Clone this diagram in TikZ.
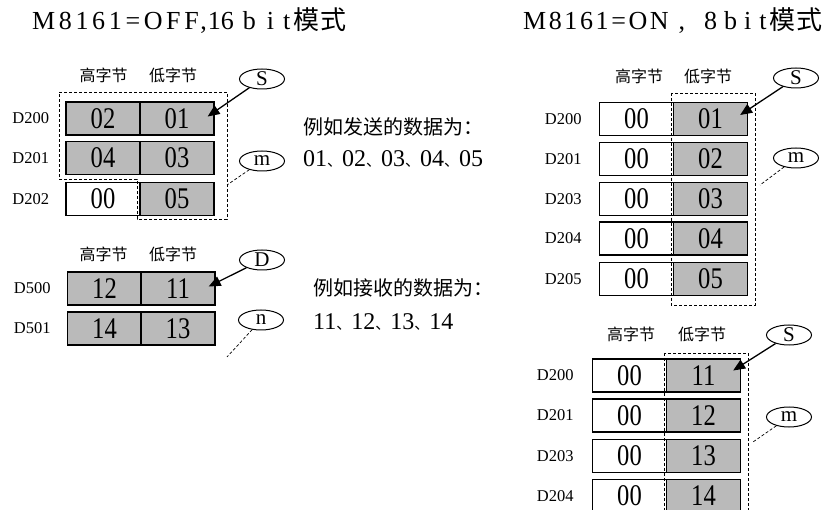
\documentclass[tikz,border=0pt]{standalone}
\usepackage{fontspec}
\setmainfont{Liberation Serif}
\newfontfamily\cjk{Noto Sans CJK SC}
\newfontfamily\cellfont[FakeStretch=0.82]{Liberation Serif}
\newfontfamily\spacedA[LetterSpace=14]{Liberation Serif}
\newfontfamily\spacedB[LetterSpace=10]{Liberation Serif}
\newcommand{\dun}{\makebox[15pt][l]{\cjk\fontsize{15}{15}\selectfont 、}}
\usetikzlibrary{positioning,shapes.geometric,arrows.meta}
\begin{document}
\begin{tikzpicture}[x=1pt,y=-1pt,
  cellg/.style={draw,line width=1.3pt,fill=black!27,minimum width=74pt,minimum height=33pt,inner sep=0pt,font=\cellfont\fontsize{30}{30}\selectfont},
  cellw/.style={cellg,fill=white},
  reglab/.style={inner sep=0pt,font=\fontsize{16.5}{16.5}\selectfont},
  colhead/.style={inner sep=0pt,font=\cjk\fontsize{16}{16}\selectfont},
  opnd/.style={draw,ellipse,line width=1pt,minimum width=45pt,minimum height=20pt,inner sep=0pt,font=\fontsize{21}{21}\selectfont},
  ptr/.style={line width=1.3pt,-{Triangle[length=12pt,width=10pt]}},
  selbox/.style={line width=0.7pt,dash pattern=on 3pt off 2pt},
  note/.style={anchor=base west,inner sep=0pt,font=\fontsize{24}{24}\selectfont},
  heading/.style={anchor=base west,inner sep=0pt,font=\fontsize{26}{26}\selectfont}]
\clip (0,0) rectangle (827,510);
% titles
\node[heading] (tl) at (32,30) {{\spacedA M8161=OFF,}\hspace{1pt}16\hspace{9pt}b\hspace{11pt}i\hspace{9pt}t{\cjk\hspace{3pt}模\hspace{1pt}式}};
\node[heading] (tr) at (523,30) {{\spacedB M8161=ON}\hspace{10pt},\hspace{19pt}8\hspace{7pt}b\hspace{7pt}i\hspace{8pt}t{\cjk\hspace{3pt}模\hspace{1pt}式}};

% 16 bit, send
\node[colhead] (ha) at (103.5,75.5) {高字节};
\node[colhead] (la) at (173,75.5) {低字节};
\node[cellg] (a1h) at (103,118.5) {02};
\node[cellg] (a1l) at (177,118.5) {01};
\node[cellg] (a2h) at (103,158) {04};
\node[cellg] (a2l) at (177,158) {03};
\node[cellw] (a3h) at (103,199) {00};
\node[cellg] (a3l) at (177,199) {05};
\node[reglab,left=16pt of a1h] (a1d) {D200};
\node[reglab,left=16pt of a2h] (a2d) {D201};
\node[reglab,left=16pt of a3h] (a3d) {D202};
\draw[selbox] (59,92) -- (227,92) -- (227,219) -- (137,219) -- (137,179) -- (59,179) -- cycle;
\node[opnd] (sa) at (262,79) {S};
\node[opnd] (ma) at (262,161) {m};
\coordinate (mae) at (227,185);
\draw[ptr] (sa) -- ([shift={(-7,-2)}]a1l.east);
\draw[selbox] (ma) -- (mae);
\node[note,font=\cjk\fontsize{20}{20}\selectfont] (txa) at (303,135) {例如发送的数据为：};
\node[note] (nua) at (303,167) {01\dun 02\dun 03\dun 04\dun 05};

% 16 bit, receive
\node[colhead] (hb) at (103.5,254.5) {高字节};
\node[colhead] (lb) at (173,254.5) {低字节};
\node[cellg] (b1h) at (104.5,288.5) {12};
\node[cellg] (b1l) at (178,288.5) {11};
\node[cellg] (b2h) at (104.5,328.5) {14};
\node[cellg] (b2l) at (178,328.5) {13};
\node[reglab,left=16pt of b1h] (b1d) {D500};
\node[reglab,left=16pt of b2h] (b2d) {D501};
\node[opnd] (db) at (262,260) {D};
\node[opnd] (nb) at (261,320) {n};
\coordinate (nbe) at (227,357);
\draw[ptr] (db) -- ([shift={(-7,-2)}]b1l.east);
\draw[selbox] (nb) -- (nbe);
\node[note,font=\cjk\fontsize{20}{20}\selectfont] (txb) at (313,296) {例如接收的数据为：};
\node[note] (nub) at (313,330) {11\dun 12\dun 13\dun 14};

% 8 bit, send
\node[colhead] (hc) at (639,76.5) {高字节};
\node[colhead] (lc) at (708,76.5) {低字节};
\node[cellw] (c1h) at (636.5,119) {00};
\node[cellg] (c1l) at (710.5,119) {01};
\node[cellw] (c2h) at (636.5,159) {00};
\node[cellg] (c2l) at (710.5,159) {02};
\node[cellw] (c3h) at (636.5,199) {00};
\node[cellg] (c3l) at (710.5,199) {03};
\node[cellw] (c4h) at (636.5,238.5) {00};
\node[cellg] (c4l) at (710.5,238.5) {04};
\node[cellw] (c5h) at (636.5,279) {00};
\node[cellg] (c5l) at (710.5,279) {05};
\node[reglab,left=17pt of c1h] (c1d) {D200};
\node[reglab,left=17pt of c2h] (c2d) {D201};
\node[reglab,left=17pt of c3h] (c3d) {D203};
\node[reglab,left=17pt of c4h] (c4d) {D204};
\node[reglab,left=17pt of c5h] (c5d) {D205};
\draw[selbox] (671,93) rectangle (755,305);
\node[opnd] (sc) at (796,78) {S};
\node[opnd] (mc) at (796,158) {m};
\coordinate (mce) at (760,185);
\draw[ptr] (sc) -- ([shift={(-8,-4)}]c1l.east);
\draw[selbox] (mc) -- (mce);

% 8 bit, receive
\node[colhead] (hd) at (631,334.5) {高字节};
\node[colhead] (ld) at (702,334.5) {低字节};
\node[cellw] (d1h) at (629.5,375.5) {00};
\node[cellg] (d1l) at (703.5,375.5) {11};
\node[cellw] (d2h) at (629.5,415.5) {00};
\node[cellg] (d2l) at (703.5,415.5) {12};
\node[cellw] (d3h) at (629.5,456) {00};
\node[cellg] (d3l) at (703.5,456) {13};
\node[cellw] (d4h) at (629.5,496) {00};
\node[cellg] (d4l) at (703.5,496) {14};
\node[reglab,left=18pt of d1h] (d1d) {D200};
\node[reglab,left=18pt of d2h] (d2d) {D201};
\node[reglab,left=18pt of d3h] (d3d) {D203};
\node[reglab,left=18pt of d4h] (d4d) {D204};
\draw[selbox] (664,353) rectangle (748,525);
\node[opnd] (sd) at (789,335) {S};
\node[opnd] (md) at (789,417) {m};
\coordinate (mde) at (753,442);
\draw[ptr] (sd) -- ([shift={(-8,-5)}]d1l.east);
\draw[selbox] (md) -- (mde);
\end{tikzpicture}
\end{document}
